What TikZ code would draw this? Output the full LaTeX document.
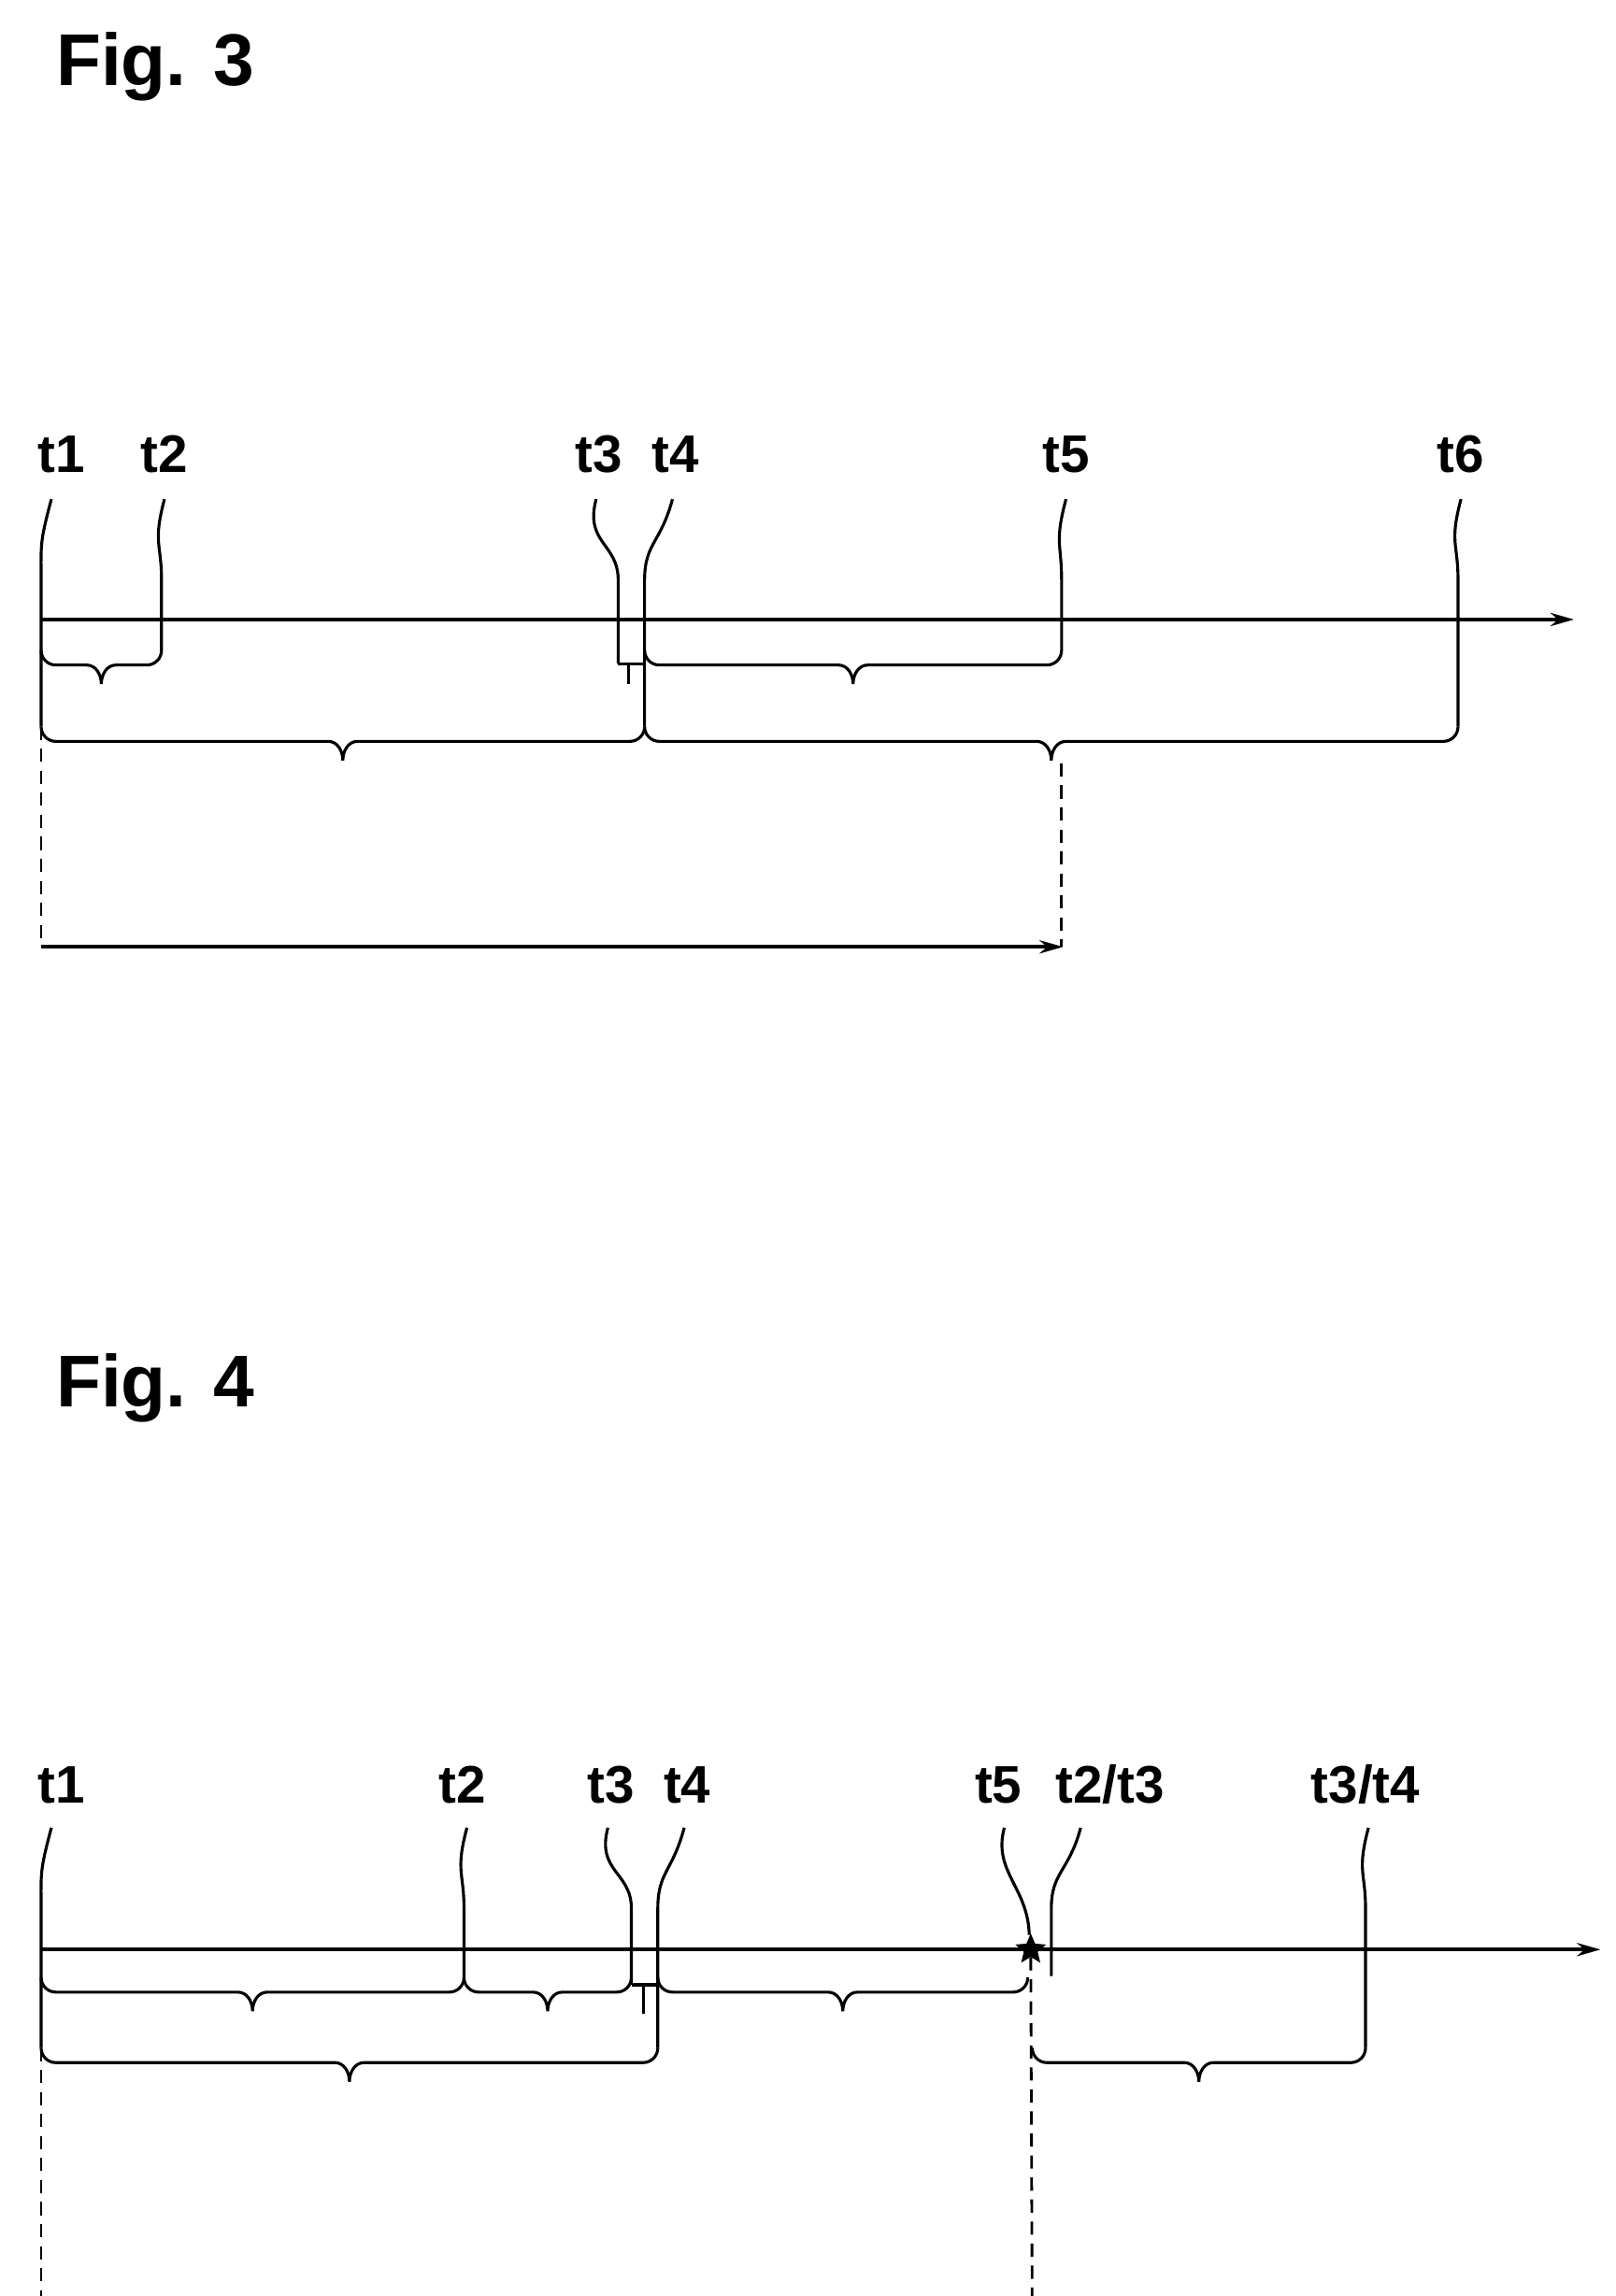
\documentclass[tikz,border=0pt]{standalone}
\usepackage{fontspec}
\setmainfont{Liberation Sans}
\usetikzlibrary{shapes.geometric,arrows.meta}
\tikzset{
 ln/.style={line width=2pt},
 ax/.style={line width=2.6pt,-{Stealth[length=16pt,width=9pt]}},
 dsh/.style={line width=1.8pt,dash pattern=on 9pt off 6pt},
 lab/.style={font=\bfseries\fontsize{36}{40}\selectfont,anchor=base,inner sep=0pt},
 ttl/.style={font=\bfseries\fontsize{50}{56}\selectfont,anchor=base west,inner sep=0pt}
}
\newcommand\mybrace[3]{% x1 x2 y
 \pgfmathsetmacro\bA{#1+10}\pgfmathsetmacro\bM{(#1+#2)/2}%
 \pgfmathsetmacro\bMl{\bM-10}\pgfmathsetmacro\bMr{\bM+10}%
 \pgfmathsetmacro\bB{#2-10}\pgfmathsetmacro\yT{#3-10}\pgfmathsetmacro\yB{#3+13}%
 \draw[ln] (#1,\yT) to[out=-90,in=180] (\bA,#3) -- (\bMl,#3)
  to[out=0,in=90] (\bM,\yB) to[out=90,in=180] (\bMr,#3)
  -- (\bB,#3) to[out=0,in=-90] (#2,\yT);}
\newcommand\myleader[4]{% xlabel xtick ystart yend
 \pgfmathsetmacro\lA{#1-8}\pgfmathsetmacro\lY{#3+30}\pgfmathsetmacro\lZ{#3+55}%
 \draw[ln] (#1,#3) .. controls (\lA,\lY) and (#2,\lY) .. (#2,\lZ) -- (#2,#4);}
\begin{document}
\begin{tikzpicture}[x=1pt,y=-1pt]
\useasboundingbox[fill=white] (0,0) rectangle (1100,1564);
% ---------- Fig 3
\node[ttl] (f3) at (38,58) {Fig. 3};
\node[lab] (a1) at (42,322) {t1};
\node[lab] (a2) at (112,322) {t2};
\node[lab] (a3) at (408,322) {t3};
\node[lab] (a4) at (460,322) {t4};
\node[lab] (a5) at (726,322) {t5};
\node[lab] (a6) at (995,322) {t6};
\coordinate (s3) at (28,422); \coordinate (e3) at (1072,422);
\draw[ax] (s3) -- (e3);
\myleader{35}{28}{340}{495}
\myleader{112}{110}{340}{443}
\myleader{406}{421}{340}{452}
\myleader{458}{439}{340}{495}
\myleader{726}{723}{340}{443}
\myleader{995}{993}{340}{495}
\draw[ln] (421,452) -- (439,452);
\draw[ln] (428,452) -- (428,466);
\mybrace{28}{110}{453}
\mybrace{439}{723}{453}
\mybrace{28}{439}{505}
\mybrace{439}{993}{505}
\draw[dsh] (28,495) -- (28,645);
\draw[dsh] (723,520) -- (723,645);
\coordinate (p3a) at (28,645); \coordinate (p3b) at (724,645);
\draw[ax] (p3a) -- (p3b);
% ---------- Fig 4
\node[ttl] (f4) at (38,958) {Fig. 4};
\node[lab] (b1) at (42,1228) {t1};
\node[lab] (b2) at (315,1228) {t2};
\node[lab] (b3) at (416,1228) {t3};
\node[lab] (b4) at (468,1228) {t4};
\node[lab] (b5) at (680,1228) {t5};
\node[lab] (b6) at (756,1228) {t2/t3};
\node[lab] (b7) at (930,1228) {t3/t4};
\coordinate (s4) at (28,1328); \coordinate (e4) at (1090,1328);
\draw[ax] (s4) -- (e4);
\myleader{35}{28}{1245}{1395}
\myleader{318}{316}{1245}{1347}
\myleader{414}{430}{1245}{1352}
\myleader{466}{448}{1245}{1395}
\draw[ln] (684,1245) .. controls (676,1275) and (700,1285) .. (701,1318);
\myleader{736}{716}{1245}{1346}
\myleader{932}{930}{1245}{1395}
\node[star,star points=5,star point ratio=2.2,fill=black,inner sep=0pt,minimum size=22pt] (st) at (702,1328) {};
\draw[ln] (430,1352) -- (448,1352);
\draw[ln] (438,1352) -- (438,1372);
\mybrace{28}{316}{1357}
\mybrace{316}{430}{1357}
\mybrace{448}{700}{1357}
\mybrace{28}{448}{1405}
\mybrace{703}{930}{1405}
\draw[dsh] (28,1395) -- (28,1578);
\draw[dsh] (st.south) -- (703,1578);
\coordinate (p4a) at (28,1578); \coordinate (p4b) at (702,1578);
\coordinate (p4c) at (703,1578); \coordinate (p4d) at (1090,1578);
\draw[ax] (p4a) -- (p4b);
\draw[ax] (p4c) -- (p4d);
\end{tikzpicture}
\end{document}
